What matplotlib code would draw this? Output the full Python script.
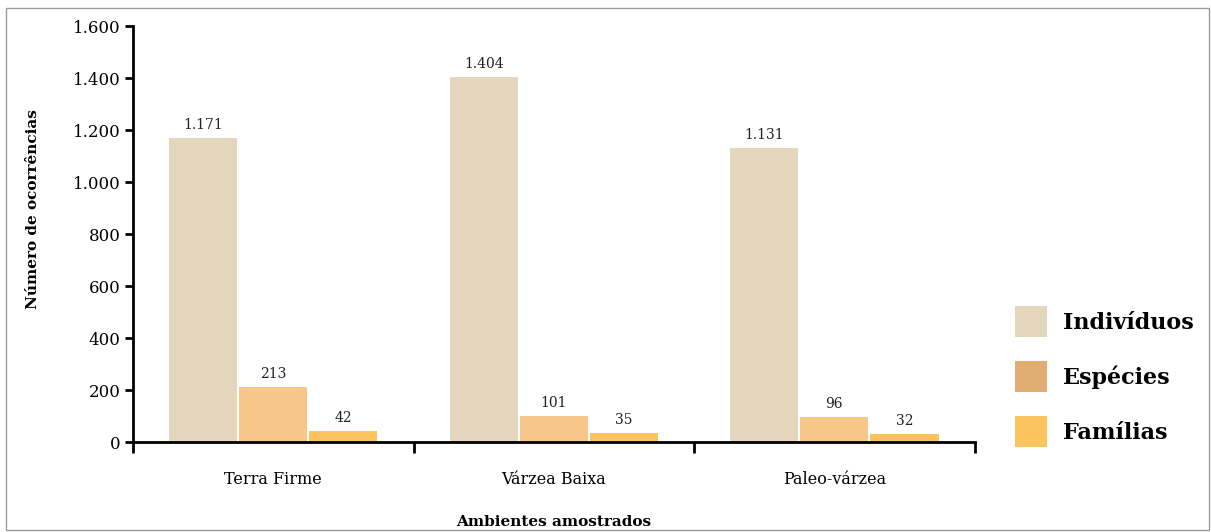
import matplotlib.pyplot as plt
import numpy as np
from matplotlib.patches import Patch, Rectangle
from matplotlib.ticker import FuncFormatter

plt.rcParams['font.family'] = 'DejaVu Serif'

ambientes = ['Terra Firme', 'Várzea Baixa', 'Paleo-várzea']
individuos = [1171, 1404, 1131]
especies = [213, 101, 96]
familias = [42, 35, 32]

series = ['Indivíduos', 'Espécies', 'Famílias']
bar_colors = ['#E3D6BC', '#F9C68A', '#FBC35D']
legend_colors = ['#E3D6BC', '#E2AD70', '#FBC35D']

fig = plt.figure(figsize=(12.11, 5.32), dpi=100)
ax = fig.add_axes([0.1098, 0.169, 0.695, 0.782])

x = np.arange(len(ambientes))
width = 0.243
step = 0.25
for i, (vals, color) in enumerate(zip([individuos, especies, familias], bar_colors)):
    pos = x + (i - 1) * step
    ax.bar(pos, vals, width=width, color=color, zorder=2)
    for p, v in zip(pos, vals):
        ax.text(p, v + 22, f'{v:,}'.replace(',', '.'), ha='center', va='bottom',
                fontsize=10, color='#222222')

ax.set_xlim(-0.5, 2.5)
ax.set_ylim(0, 1600)
ax.set_yticks(np.arange(0, 1601, 200))
ax.yaxis.set_major_formatter(FuncFormatter(lambda v, _: f'{int(v):,}'.replace(',', '.')))

# category labels centred, ticks at the group boundaries
ax.set_xticks([-0.5, 0.5, 1.5, 2.5])
ax.set_xticklabels([])
ax.set_xticks(x, minor=True)
ax.set_xticklabels(ambientes, minor=True, fontsize=11.5)
ax.tick_params(axis='x', which='major', length=8, width=2, direction='out')
ax.tick_params(axis='x', which='minor', length=0, pad=21)
ax.tick_params(axis='y', length=6, width=2, labelsize=12, pad=3)

for side in ['top', 'right']:
    ax.spines[side].set_visible(False)
ax.spines['left'].set_linewidth(2)
ax.spines['bottom'].set_linewidth(2)

ax.set_ylabel('Número de ocorrências', fontsize=11, fontweight='bold')
ax.set_xlabel('Ambientes amostrados', fontsize=11, fontweight='bold')
ax.yaxis.set_label_coords(-0.11, 0.56)
ax.xaxis.set_label_coords(0.5, -0.175)

handles = [Patch(facecolor=c, edgecolor='none') for c in legend_colors]
fig.legend(handles, series, loc='center left', bbox_to_anchor=(0.822, 0.292),
           frameon=False, prop={'size': 16, 'weight': 'bold'},
           handlelength=1.4, handleheight=1.75, handletextpad=0.75, labelspacing=1.1)

fig.patches.append(Rectangle((0.005, 0.004), 0.993, 0.981, transform=fig.transFigure,
                             fill=False, edgecolor='#9a9a9a', linewidth=1))

fig.savefig('out.png', dpi=100)
